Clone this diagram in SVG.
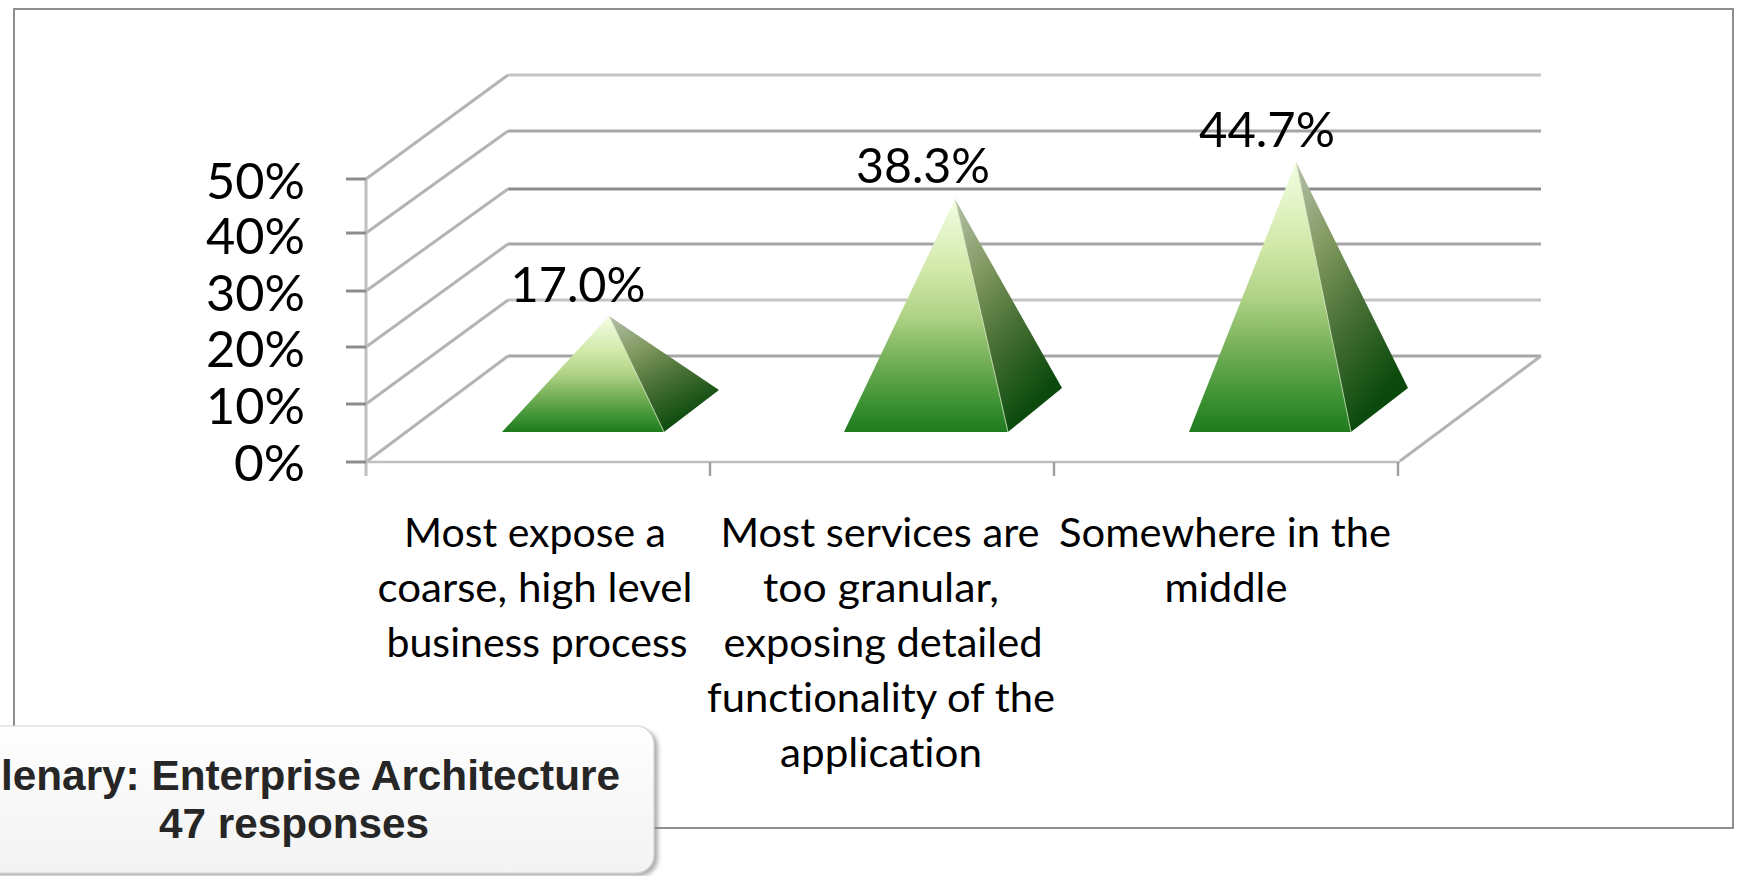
<svg xmlns="http://www.w3.org/2000/svg" width="1741" height="876" viewBox="0 0 1741 876">
<style>
.ax{font-family:Lato,Carlito,"Liberation Sans",sans-serif;font-size:51px;fill:#000}
.dl{font-family:Lato,Carlito,"Liberation Sans",sans-serif;font-size:48px;fill:#000;text-anchor:middle}
.cl{font-family:Lato,Carlito,"Liberation Sans",sans-serif;font-size:41px;fill:#000;text-anchor:middle;font-variant-ligatures:none}
.cap{font-family:"Liberation Sans",Arial,sans-serif;font-weight:bold;font-size:42px;fill:#262626}
.diag{stroke:#b4b4b4;stroke-width:3;fill:none}
.tick{stroke:#8c8c8c;stroke-width:3}
</style>
<defs>
<linearGradient id="front" x1="0" y1="0" x2="0" y2="1">
<stop offset="0" stop-color="#f4fee4"/>
<stop offset="0.3" stop-color="#d2e9aa"/>
<stop offset="0.5" stop-color="#b0d386"/>
<stop offset="0.7" stop-color="#72ae56"/>
<stop offset="0.88" stop-color="#3b9132"/>
<stop offset="1" stop-color="#1e7b1e"/>
</linearGradient>
<linearGradient id="side" x1="0" y1="0" x2="0.5" y2="1">
<stop offset="0" stop-color="#b4c0aa"/>
<stop offset="0.35" stop-color="#80985f"/>
<stop offset="0.65" stop-color="#476f35"/>
<stop offset="1" stop-color="#0b4a0c"/>
</linearGradient>
<linearGradient id="boxfill" x1="0" y1="0" x2="0" y2="1">
<stop offset="0" stop-color="#ffffff"/>
<stop offset="0.25" stop-color="#fbfbfb"/>
<stop offset="1" stop-color="#f3f3f3"/>
</linearGradient>
<filter id="blur" x="-10%" y="-10%" width="120%" height="130%">
<feGaussianBlur stdDeviation="2"/>
</filter>
</defs>
<rect x="0" y="0" width="1741" height="876" fill="#ffffff"/>
<g id="frame">
<rect x="14" y="9" width="1719" height="819" fill="none" stroke="#8e8e8e" stroke-width="2"/>
</g>
<g id="walls">
<line x1="508" y1="75" x2="1541" y2="75" stroke="#c4c4c4" stroke-width="3"/>
<line x1="508" y1="131" x2="1541" y2="131" stroke="#a6a6a6" stroke-width="3"/>
<line x1="508" y1="189" x2="1541" y2="189" stroke="#8c8c8c" stroke-width="3"/>
<line x1="508" y1="244" x2="1541" y2="244" stroke="#a6a6a6" stroke-width="3"/>
<line x1="508" y1="300" x2="1541" y2="300" stroke="#c4c4c4" stroke-width="3"/>
<line x1="508" y1="356" x2="1541" y2="356" stroke="#a6a6a6" stroke-width="3"/>
<line class="diag" x1="366" y1="179" x2="508" y2="75"/>
<line class="diag" x1="366" y1="233" x2="508" y2="131"/>
<line class="diag" x1="366" y1="291" x2="508" y2="189"/>
<line class="diag" x1="366" y1="347" x2="508" y2="244"/>
<line class="diag" x1="366" y1="404" x2="508" y2="300"/>
<line class="diag" x1="366" y1="462" x2="508" y2="356"/>
<line class="diag" x1="1400" y1="461" x2="1541" y2="356"/>
<line x1="366" y1="462" x2="1400" y2="462" stroke="#c0c0c0" stroke-width="2.5"/>
</g>
<g id="axis">
<line x1="366" y1="178" x2="366" y2="476" stroke="#c0c0c0" stroke-width="3"/>
<line class="tick" x1="346" y1="179" x2="366" y2="179"/>
<line class="tick" x1="346" y1="233" x2="366" y2="233"/>
<line class="tick" x1="346" y1="291" x2="366" y2="291"/>
<line class="tick" x1="346" y1="347" x2="366" y2="347"/>
<line class="tick" x1="346" y1="404" x2="366" y2="404"/>
<line class="tick" x1="346" y1="462" x2="366" y2="462"/>
<line x1="710" y1="462" x2="710" y2="476" stroke="#a0a0a0" stroke-width="2.5"/>
<line x1="1054" y1="462" x2="1054" y2="476" stroke="#a0a0a0" stroke-width="2.5"/>
<line x1="1398" y1="462" x2="1398" y2="476" stroke="#a0a0a0" stroke-width="2.5"/>
<text class="ax" x="305" y="199" text-anchor="end" textLength="99" lengthAdjust="spacingAndGlyphs">50%</text>
<text class="ax" x="305" y="254" text-anchor="end" textLength="99" lengthAdjust="spacingAndGlyphs">40%</text>
<text class="ax" x="305" y="311" text-anchor="end" textLength="99" lengthAdjust="spacingAndGlyphs">30%</text>
<text class="ax" x="305" y="367" text-anchor="end" textLength="99" lengthAdjust="spacingAndGlyphs">20%</text>
<text class="ax" x="305" y="424" text-anchor="end" textLength="99" lengthAdjust="spacingAndGlyphs">10%</text>
<text class="ax" x="305" y="481" text-anchor="end" textLength="71" lengthAdjust="spacingAndGlyphs">0%</text>
</g>
<g id="pyramid1">
<polygon points="609,316 664,432 719,390" fill="url(#side)"/>
<polygon points="609,316 502,432 664,432" fill="url(#front)"/>
<line x1="609" y1="316" x2="664" y2="432" stroke="#d6e6c0" stroke-width="1.2" stroke-opacity="0.6"/>
<text class="dl" x="578" y="302" textLength="135" lengthAdjust="spacingAndGlyphs">17.0%</text>
</g>
<g id="pyramid2">
<polygon points="955,199 1008,432 1062,388" fill="url(#side)"/>
<polygon points="955,199 844,432 1008,432" fill="url(#front)"/>
<line x1="955" y1="199" x2="1008" y2="432" stroke="#d6e6c0" stroke-width="1.2" stroke-opacity="0.6"/>
<text class="dl" x="923" y="183" textLength="134" lengthAdjust="spacingAndGlyphs">38.3%</text>
</g>
<g id="pyramid3">
<polygon points="1296,162 1351,432 1408,388" fill="url(#side)"/>
<polygon points="1296,162 1189,432 1351,432" fill="url(#front)"/>
<line x1="1296" y1="162" x2="1351" y2="432" stroke="#d6e6c0" stroke-width="1.2" stroke-opacity="0.6"/>
<text class="dl" x="1267" y="147" textLength="136" lengthAdjust="spacingAndGlyphs">44.7%</text>
</g>
<g id="category1">
<text class="cl" x="535" y="547" textLength="262" lengthAdjust="spacingAndGlyphs">Most expose a</text>
<text class="cl" x="535" y="602" textLength="315" lengthAdjust="spacingAndGlyphs">coarse, high level</text>
<text class="cl" x="537" y="657" textLength="301" lengthAdjust="spacingAndGlyphs">business process</text>
</g>
<g id="category2">
<text class="cl" x="880" y="547" textLength="319" lengthAdjust="spacingAndGlyphs">Most services are</text>
<text class="cl" x="881" y="602" textLength="236" lengthAdjust="spacingAndGlyphs">too granular,</text>
<text class="cl" x="883" y="657" textLength="319" lengthAdjust="spacingAndGlyphs">exposing detailed</text>
<text class="cl" x="881" y="712" textLength="348" lengthAdjust="spacingAndGlyphs">functionality of the</text>
<text class="cl" x="881" y="767" textLength="202" lengthAdjust="spacingAndGlyphs">application</text>
</g>
<g id="category3">
<text class="cl" x="1225" y="547" textLength="332" lengthAdjust="spacingAndGlyphs">Somewhere in the</text>
<text class="cl" x="1226" y="602" textLength="123" lengthAdjust="spacingAndGlyphs">middle</text>
</g>
<g id="caption">
<rect x="-26" y="729" width="684" height="147" rx="18" fill="#8a8a8a" opacity="0.7" filter="url(#blur)"/>
<rect x="-30" y="726" width="684" height="147" rx="18" fill="url(#boxfill)" stroke="#d4d4d4" stroke-width="1.2"/>
<text class="cap" x="1" y="790" textLength="619" lengthAdjust="spacingAndGlyphs">lenary: Enterprise Architecture</text>
<text class="cap" x="294" y="838" text-anchor="middle" textLength="270" lengthAdjust="spacingAndGlyphs">47 responses</text>
</g>
<g id="connectors"/>
</svg>
